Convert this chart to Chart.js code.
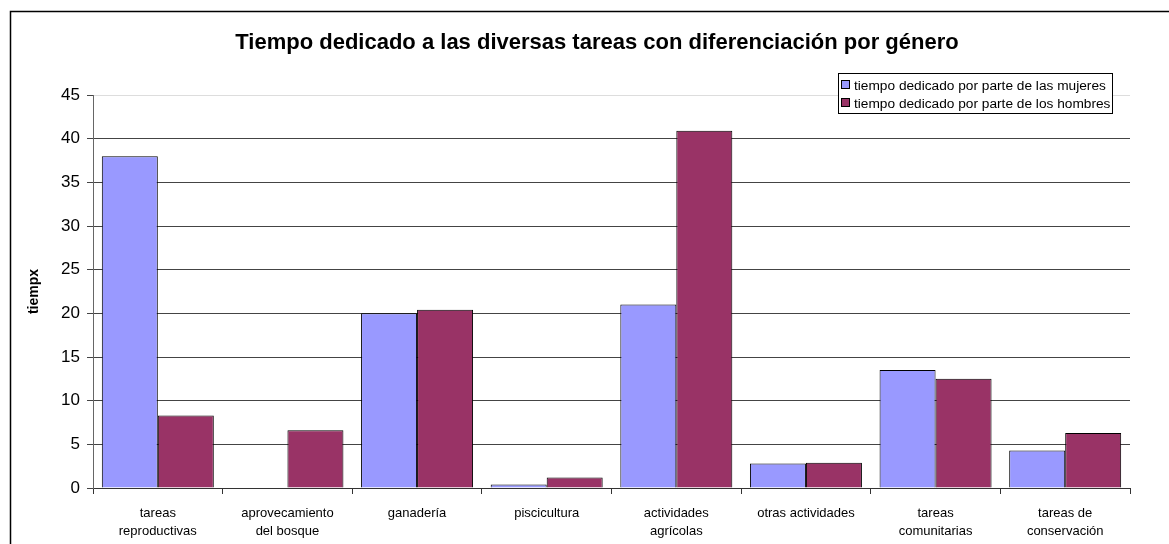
<!DOCTYPE html>
<html>
<head>
<meta charset="utf-8">
<script src="https://cdn.jsdelivr.net/npm/chart.js@4"></script>
<style>
  html, body { margin: 0; padding: 0; background: #fff; }
  #wrap { width: 1169px; height: 544px; position: relative; }
</style>
</head>
<body>
<div id="wrap"><canvas id="grafico"></canvas></div>
<script>
// Datos
const categorias = [
  ['tareas', 'reproductivas'],
  ['aprovecamiento', 'del bosque'],
  'ganadería',
  'piscicultura',
  ['actividades', 'agrícolas'],
  'otras actividades',
  ['tareas', 'comunitarias'],
  ['tareas de', 'conservación']
];
const serieMujeres = [38, 0, 20, 0.4, 21, 2.8, 13.5, 4.3];
const serieHombres = [8.3, 6.6, 20.4, 1.2, 40.9, 2.9, 12.5, 6.3];
const etiquetasSeries = ['tiempo dedicado por parte de las mujeres', 'tiempo dedicado por parte de los hombres'];
const titulo = 'Tiempo dedicado a las diversas tareas con diferenciación por género';
const tituloEjeY = 'tiempx';

const FUENTE = 'Arial, "Liberation Sans", sans-serif';

// Marco exterior, titulo y leyenda dibujados a mano (posicion libre como en Excel)
const marcoYLeyenda = {
  id: 'marcoYLeyenda',
  beforeDraw(chart) {
    const ctx = chart.ctx;
    ctx.save();
    ctx.fillStyle = '#fff';
    ctx.fillRect(0, 0, chart.width, chart.height);
    ctx.strokeStyle = '#000';
    ctx.lineWidth = 1.5;
    ctx.strokeRect(10.5, 11.5, 2000, 2000);
    // titulo
    ctx.fillStyle = '#000';
    ctx.font = 'bold 22px ' + FUENTE;
    ctx.textAlign = 'center';
    ctx.textBaseline = 'middle';
    ctx.fillText(titulo, 597, 43);
    ctx.restore();
  },
  afterDraw(chart) {
    const ctx = chart.ctx;
    const x = 838.5, y = 73.5, w = 274, h = 40;
    ctx.save();
    ctx.fillStyle = '#fff';
    ctx.fillRect(x, y, w, h);
    ctx.strokeStyle = '#000';
    ctx.lineWidth = 1;
    ctx.strokeRect(x, y, w, h);
    ctx.font = '13.7px ' + FUENTE;
    ctx.textBaseline = 'middle';
    chart.data.datasets.forEach((ds, i) => {
      const cy = 85 + i * 18;
      ctx.fillStyle = ds.backgroundColor;
      ctx.fillRect(841.5, cy - 4.5, 8, 8);
      ctx.strokeStyle = '#000';
      ctx.strokeRect(841.5, cy - 4.5, 8, 8);
      ctx.fillStyle = '#000';
      ctx.fillText(ds.label, 854, cy + 1);
    });
    ctx.restore();
  }
};

new Chart(document.getElementById('grafico'), {
  type: 'bar',
  data: {
    labels: categorias,
    datasets: [
      {
        label: etiquetasSeries[0],
        data: serieMujeres,
        backgroundColor: '#9999ff',
        borderColor: '#000',
        borderWidth: 1,
        categoryPercentage: 0.864,
        barPercentage: 1
      },
      {
        label: etiquetasSeries[1],
        data: serieHombres,
        backgroundColor: '#993366',
        borderColor: '#000',
        borderWidth: 1,
        categoryPercentage: 0.864,
        barPercentage: 1
      }
    ]
  },
  options: {
    responsive: true,
    maintainAspectRatio: false,
    animation: false,
    layout: { padding: { top: 95, right: 39, bottom: 0, left: 0 } },
    plugins: {
      legend: { display: false },
      tooltip: { enabled: false },
      title: { display: false }
    },
    scales: {
      x: {
        grid: {
          offset: true,
          drawOnChartArea: false,
          drawTicks: true,
          tickLength: 6,
          tickColor: '#333'
        },
        border: { color: '#333', width: 1 },
        ticks: {
          color: '#000',
          font: { family: FUENTE, size: 13, lineHeight: 1.35 },
          padding: 11,
          maxRotation: 0,
          autoSkip: false
        },
        afterFit(scale) { scale.height = 56; }
      },
      y: {
        min: 0,
        max: 45,
        grid: {
          color: ctx => (ctx.tick && ctx.tick.value === 45 ? '#dddddd' : '#444'),
          tickColor: '#444',
          tickLength: 6,
          lineWidth: 1
        },
        border: { color: '#666', width: 1 },
        ticks: {
          stepSize: 5,
          color: '#000',
          font: { family: FUENTE, size: 17 },
          padding: 7
        },
        title: {
          display: true,
          text: tituloEjeY,
          color: '#000',
          font: { family: FUENTE, size: 14, weight: 'bold' },
          padding: { top: 26, bottom: 0 }
        },
        afterFit(scale) { scale.width = 93; }
      }
    }
  },
  plugins: [marcoYLeyenda]
});
</script>
</body>
</html>
